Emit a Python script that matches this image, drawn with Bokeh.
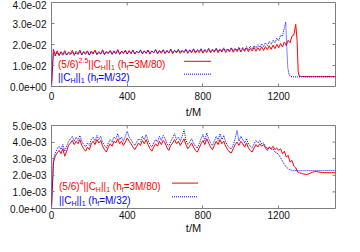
from bokeh.plotting import figure
from bokeh.models import Range1d, LinearAxis, FixedTicker, Label
from bokeh.layouts import column
from bokeh.embed import file_html
from bokeh.resources import INLINE

# ---------------- data ----------------
x_ticks = [0, 400, 800, 1200]
top_y_ticks = [0, 0.01, 0.02, 0.03, 0.04]
top_y_labels = ["0.0e+00", "1.0e-02", "2.0e-02", "3.0e-02", "4.0e-02"]
bot_y_ticks = [0, 0.001, 0.002, 0.003, 0.004, 0.005]
bot_y_labels = ["0.0e+00", "1.0e-03", "2.0e-03", "3.0e-03", "4.0e-03", "5.0e-03"]

# top panel, red: (5/6)^2.5 ||C_H||_1 (h_f=3M/80)   values in units of 1e-2
top_red_t = list(range(0, 1300, 10)) + [1297, 1303, 1308, 1320, 1340, 1360, 1380, 1400,
                                         1420, 1440, 1460, 1480, 1500]
top_red_v = [
    0.00, 1.78, 1.50, 1.70, 1.49, 1.66, 1.53, 1.71, 1.50, 1.65,
    1.56, 1.72, 1.51, 1.68, 1.55, 1.73, 1.52, 1.67, 1.57, 1.70,
    1.50, 1.69, 1.58, 1.74, 1.53, 1.66, 1.56, 1.75, 1.52, 1.68,
    1.59, 1.72, 1.54, 1.70, 1.57, 1.76, 1.53, 1.69, 1.58, 1.73,
    1.55, 1.71, 1.56, 1.74, 1.54, 1.68, 1.59, 1.75, 1.55, 1.70,
    1.57, 1.73, 1.54, 1.69, 1.60, 1.76, 1.55, 1.71, 1.58, 1.74,
    1.56, 1.70, 1.59, 1.77, 1.56, 1.72, 1.60, 1.75, 1.57, 1.71,
    1.61, 1.76, 1.58, 1.73, 1.60, 1.78, 1.59, 1.72, 1.61, 1.77,
    1.59, 1.74, 1.62, 1.79, 1.60, 1.75, 1.63, 1.80, 1.61, 1.76,
    1.64, 1.81, 1.62, 1.78, 1.65, 1.82, 1.63, 1.79, 1.66, 1.83,
    1.64, 1.81, 1.67, 1.84, 1.66, 1.82, 1.69, 1.86, 1.68, 1.85,
    1.71, 1.89, 1.72, 1.90, 1.75, 1.94, 1.77, 1.97, 1.80, 2.01,
    1.84, 2.05, 1.88, 2.12, 1.95, 2.20, 2.08, 2.40, 2.45, 2.96,
    2.20, 0.70, 0.50, 0.48, 0.47, 0.47, 0.47, 0.47, 0.47, 0.47, 0.47, 0.47, 0.47,
]

# top panel, blue: ||C_H||_1 (h_f=M/32)   values in units of 1e-2
top_blue_t = list(range(0, 1240, 10)) + [1237, 1242, 1248, 1255, 1265, 1280, 1300, 1320,
                                          1340, 1360, 1380, 1400, 1420, 1440, 1460, 1480, 1500]
top_blue_v = [
    0.00, 1.60, 1.44, 1.62, 1.46, 1.58, 1.47, 1.63, 1.49, 1.60,
    1.50, 1.64, 1.48, 1.61, 1.51, 1.65, 1.50, 1.62, 1.52, 1.66,
    1.49, 1.63, 1.53, 1.67, 1.51, 1.62, 1.54, 1.68, 1.52, 1.64,
    1.55, 1.69, 1.53, 1.65, 1.56, 1.70, 1.54, 1.66, 1.57, 1.71,
    1.55, 1.67, 1.58, 1.72, 1.56, 1.68, 1.59, 1.73, 1.57, 1.69,
    1.60, 1.74, 1.58, 1.70, 1.61, 1.75, 1.59, 1.71, 1.62, 1.76,
    1.60, 1.72, 1.63, 1.77, 1.61, 1.73, 1.64, 1.78, 1.62, 1.74,
    1.65, 1.79, 1.63, 1.75, 1.66, 1.80, 1.64, 1.76, 1.67, 1.81,
    1.65, 1.77, 1.68, 1.82, 1.66, 1.78, 1.69, 1.83, 1.67, 1.79,
    1.70, 1.84, 1.68, 1.80, 1.71, 1.85, 1.70, 1.82, 1.73, 1.87,
    1.72, 1.86, 1.75, 1.90, 1.76, 1.92, 1.79, 1.95, 1.83, 1.99,
    1.86, 2.03, 1.90, 2.08, 1.95, 2.14, 2.01, 2.20, 2.08, 2.30,
    2.18, 2.45, 2.40, 2.80,
    3.07, 2.00, 0.90, 0.55, 0.48, 0.46, 0.46, 0.46, 0.46, 0.46, 0.46, 0.46, 0.46,
    0.46, 0.46, 0.46, 0.46,
]

# bottom panel, common time grid
bot_t = list(range(0, 1510, 10))
# red: (5/6)^4 ||C_H||_1 (h_f=3M/80)   values in units of 1e-3
bot_red_v = [
    0.00, 2.75, 3.15, 3.35, 3.50, 3.30, 3.60, 3.15, 3.45, 3.80,
    3.95, 4.10, 3.85, 4.05, 3.90, 4.15, 3.80, 3.60, 3.45, 3.70,
    3.55, 3.90, 4.05, 3.85, 4.15, 3.95, 4.10, 3.75, 3.55, 3.40,
    3.70, 3.90, 3.75, 4.05, 3.95, 4.20, 3.90, 4.05, 3.80, 4.00,
    4.25, 4.05, 3.90, 3.70, 3.55, 3.75, 3.95, 3.80, 4.10, 3.90,
    4.15, 3.85, 3.60, 3.45, 3.70, 3.90, 3.75, 4.05, 3.85, 4.10,
    3.95, 3.65, 3.50, 3.80, 3.95, 4.15, 3.90, 4.05, 3.80, 4.00,
    4.20, 3.85, 3.60, 3.75, 3.95, 3.70, 3.50, 3.40, 3.65, 3.90,
    4.10, 3.85, 4.20, 3.95, 3.70, 3.55, 3.80, 4.05, 3.85, 4.15,
    3.90, 4.05, 3.75, 3.55, 3.40, 3.35, 3.60, 3.85, 4.00, 3.80,
    4.05, 3.90, 3.70, 3.95, 3.65, 3.50, 3.40, 3.65, 3.85, 3.70,
    3.90, 3.75, 3.85, 3.65, 3.50, 3.70, 3.60, 3.75, 3.55, 3.65,
    3.50, 3.60, 3.30, 3.45, 3.10, 3.20, 2.80, 2.90, 2.55, 2.45,
    2.20, 2.15, 2.12, 2.08, 2.06, 2.06, 2.09, 2.14, 2.19, 2.22,
    2.22, 2.20, 2.18, 2.17, 2.16, 2.16, 2.16, 2.16, 2.16, 2.16,
    2.16,
]
# blue: ||C_H||_1 (h_f=M/32)   values in units of 1e-3
bot_blue_v = [
    0.00, 2.95, 3.35, 3.60, 3.75, 3.55, 3.85, 3.45, 3.75, 4.05,
    4.20, 4.35, 4.05, 4.30, 4.10, 4.40, 4.05, 3.85, 3.70, 3.95,
    3.80, 4.15, 4.30, 4.05, 4.40, 4.15, 4.35, 4.00, 3.80, 3.65,
    3.95, 4.15, 4.00, 4.30, 4.20, 4.50, 4.15, 4.30, 4.05, 4.35,
    4.65, 4.30, 4.15, 3.95, 3.80, 4.00, 4.20, 4.05, 4.35, 4.15,
    4.45, 4.10, 3.85, 3.70, 3.95, 4.15, 4.00, 4.35, 4.10, 4.40,
    4.20, 3.90, 3.75, 4.05, 4.25, 4.50, 4.15, 4.30, 4.05, 4.35,
    4.75, 4.10, 3.85, 4.00, 4.20, 3.95, 3.75, 3.65, 3.90, 4.20,
    4.45, 4.10, 4.55, 4.20, 3.95, 3.80, 4.05, 4.35, 4.10, 4.50,
    4.15, 4.40, 4.00, 3.80, 3.65, 3.60, 3.85, 4.20, 4.70, 4.05,
    4.35, 4.15, 3.95, 4.20, 3.90, 3.75, 3.65, 3.90, 4.10, 3.95,
    4.10, 3.90, 3.95, 3.75, 3.60, 3.70, 3.55, 3.60, 3.40, 3.35,
    3.25, 3.05, 2.85, 2.65, 2.50, 2.40, 2.33, 2.30, 2.28, 2.28,
    2.28, 2.28, 2.28, 2.28, 2.28, 2.28, 2.28, 2.28, 2.28, 2.28,
    2.28, 2.28, 2.28, 2.28, 2.28, 2.28, 2.28, 2.28, 2.28, 2.28,
    2.28,
]

top_red = [v * 1e-2 for v in top_red_v]
top_blue = [v * 1e-2 for v in top_blue_v]
bot_red = [v * 1e-3 for v in bot_red_v]
bot_blue = [v * 1e-3 for v in bot_blue_v]

# legend texts: (piece, kind) with kind n=normal, sup, sub, sp=space
tail_red = [("||C", "n"), ("H", "sub"), ("||", "n"), ("1", "sub"), (" ", "sp"), ("(h", "n"),
            ("f", "sub"), ("=3M/80)", "n")]
tail_blue = [("||C", "n"), ("H", "sub"), ("||", "n"), ("1", "sub"), (" ", "sp"), ("(h", "n"),
             ("f", "sub"), ("=M/32)", "n")]
top_leg_red = [("(5/6)", "n"), ("2.5", "sup")] + tail_red
bot_leg_red = [("(5/6)", "n"), ("4", "sup")] + tail_red

# ---------------- style / layout ----------------
FONT = "Liberation Sans"
GRAY = "#7f7f7f"
RED = "#ff0000"
BLUE = "#0000ff"
X_MAX = 1500
FIG_W = 344
BORDER_L, BORDER_R = 51, 9
FRAME_W = FIG_W - BORDER_L - BORDER_R
FRAME_H = 85
TICK = 3

ARIAL = {'(': 333, ')': 333, '/': 278, '.': 278, '|': 260, ' ': 278, '=': 584,
         'C': 722, 'H': 722, 'M': 833, 'h': 556, 'f': 278}


def text_w(s, size):
    return sum(ARIAL.get(c, 556) for c in s) * size / 1000.0


def make_panel(height, top_b, bot_b, y_max, y_ticks, y_labels, tick_standoff, label_standoff):
    p = figure(width=FIG_W, height=height, x_range=Range1d(0, X_MAX), y_range=Range1d(0, y_max),
               x_axis_type=None, y_axis_type=None, toolbar_location=None, output_backend="svg",
               min_border_left=BORDER_L, min_border_right=BORDER_R,
               min_border_top=top_b, min_border_bottom=bot_b)
    p.outline_line_color = GRAY
    p.outline_line_width = 1
    p.background_fill_color = "white"
    p.border_fill_color = "white"

    def style(ax):
        ax.major_tick_in = TICK
        ax.major_tick_out = 0
        ax.major_tick_line_color = GRAY
        ax.minor_tick_line_color = None
        ax.axis_line_color = None
        ax.major_label_text_font = FONT
        ax.major_label_text_color = "#111111"
        ax.major_label_text_font_size = "10px"

    xb = LinearAxis(ticker=FixedTicker(ticks=x_ticks), axis_label="t/M")
    style(xb)
    xb.major_label_standoff = tick_standoff
    xb.axis_label_standoff = label_standoff
    xb.axis_label_text_font = FONT
    xb.axis_label_text_font_style = "normal"
    xb.axis_label_text_font_size = "11px"
    xb.axis_label_text_color = "#111111"
    p.add_layout(xb, "below")

    yl = LinearAxis(ticker=FixedTicker(ticks=y_ticks),
                    major_label_overrides=dict(zip(y_ticks, y_labels)))
    style(yl)
    yl.major_label_standoff = 5
    p.add_layout(yl, "left")

    # mirrored tick marks on the top and right frame edges
    dy = y_max * TICK / FRAME_H
    dx = X_MAX * TICK / FRAME_W
    p.segment(x0=x_ticks, y0=[y_max] * len(x_ticks), x1=x_ticks, y1=[y_max - dy] * len(x_ticks),
              line_color=GRAY, line_width=1)
    p.segment(x0=[X_MAX] * len(y_ticks), y0=y_ticks, x1=[X_MAX - dx] * len(y_ticks), y1=y_ticks,
              line_color=GRAY, line_width=1)
    return p


def add_legend(p, y_max, start_px, sample_px, rows):
    # rows: list of (pieces, color, dash, center_px_above_frame_bottom)
    for pieces, color, dash, cy in rows:
        base = cy - 3.6
        cur = start_px
        for s, kind in pieces:
            if kind == "sp":
                cur += text_w(s, 10)
                continue
            size = 10 if kind == "n" else 7
            dy = 0 if kind == "n" else (4.5 if kind == "sup" else -3)
            p.add_layout(Label(x=X_MAX * cur / FRAME_W, y=y_max * (base + dy) / FRAME_H,
                               text=s, text_font=FONT, text_font_size=f"{size}px",
                               text_color=color, text_baseline="alphabetic", text_align="left"))
            cur += text_w(s, size)
        ys = y_max * cy / FRAME_H
        xs = [X_MAX * sample_px[0] / FRAME_W, X_MAX * sample_px[1] / FRAME_W]
        if dash is None:
            p.line(xs, [ys, ys], line_color=color, line_width=1)
        else:
            p.line(xs, [ys, ys], line_color=color, line_width=1, line_dash=dash)


# top panel
p1 = make_panel(120, 2, 33, 0.04, top_y_ticks, top_y_labels, 5, 3)
p1.line(top_red_t, top_red, line_color=RED, line_width=1)
p1.line(top_blue_t, top_blue, line_color=BLUE, line_width=1, line_dash="1 1")
add_legend(p1, 0.04, 6.5, (132.5, 159.5),
           [(top_leg_red, RED, None, 25.5), (tail_blue, BLUE, "1 1", 12.5)])

# bottom panel
p2 = make_panel(116, 5, 26, 0.005, bot_y_ticks, bot_y_labels, 2, 0)
p2.line(bot_t, bot_red, line_color=RED, line_width=1)
p2.line(bot_t, bot_blue, line_color=BLUE, line_width=1, line_dash="1 1")
add_legend(p2, 0.005, 7.5, (120.5, 146.5),
           [(bot_leg_red, RED, None, 26), (tail_blue, BLUE, "1 1", 12)])

layout = column(p1, p2, spacing=0)
open("out.html", "w").write(file_html(layout, INLINE))
